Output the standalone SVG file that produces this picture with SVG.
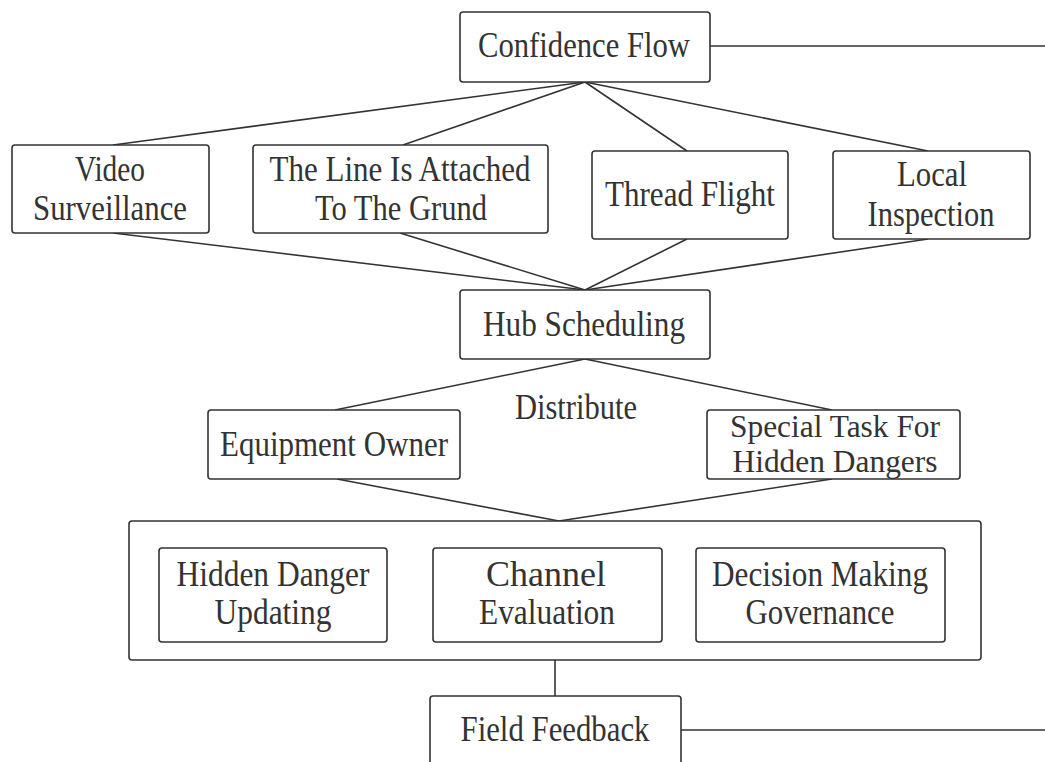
<svg xmlns="http://www.w3.org/2000/svg" width="1045" height="762" viewBox="0 0 1045 762">
<style>
.box{fill:#fff;stroke:#333;stroke-width:1.6}
.t{font-family:"Liberation Serif","Times New Roman",serif;font-size:36px;fill:#333;text-anchor:middle}
.s{font-size:32px}
.c{stroke:#333;stroke-width:1.6;fill:none}
</style>
<rect width="1045" height="762" fill="#fff"/>
<g id="connectors">
<line class="c" x1="710" y1="46" x2="1045" y2="46"/>
<line class="c" x1="585" y1="82" x2="113" y2="145"/>
<line class="c" x1="585" y1="82" x2="403" y2="145"/>
<line class="c" x1="585" y1="82" x2="687" y2="151"/>
<line class="c" x1="585" y1="82" x2="928" y2="151"/>
<line class="c" x1="113" y1="233" x2="585" y2="290"/>
<line class="c" x1="400" y1="233" x2="585" y2="290"/>
<line class="c" x1="687" y1="239" x2="585" y2="290"/>
<line class="c" x1="928" y1="239" x2="585" y2="290"/>
<line class="c" x1="585" y1="359" x2="335" y2="410"/>
<line class="c" x1="585" y1="359" x2="832" y2="410"/>
<line class="c" x1="337" y1="479" x2="559" y2="521"/>
<line class="c" x1="832" y1="479" x2="559" y2="521"/>
<line class="c" x1="555" y1="660" x2="555" y2="696"/>
<line class="c" x1="681" y1="730" x2="1045" y2="730"/>
</g>
<g id="confidence-flow">
<rect class="box" x="460" y="12" width="250" height="70" rx="3"/>
<text class="t" x="584" y="57" textLength="212" lengthAdjust="spacingAndGlyphs">Confidence Flow</text>
</g>
<g id="video-surveillance">
<rect class="box" x="12" y="145" width="197" height="88" rx="3"/>
<text class="t" x="110" y="181" textLength="70" lengthAdjust="spacingAndGlyphs">Video</text>
<text class="t" x="110" y="220" textLength="154" lengthAdjust="spacingAndGlyphs">Surveillance</text>
</g>
<g id="line-attached">
<rect class="box" x="253" y="145" width="295" height="88" rx="3"/>
<text class="t" x="400" y="181" textLength="261" lengthAdjust="spacingAndGlyphs">The Line Is Attached</text>
<text class="t" x="401" y="220" textLength="172" lengthAdjust="spacingAndGlyphs">To The Grund</text>
</g>
<g id="thread-flight">
<rect class="box" x="592" y="151" width="196" height="88" rx="3"/>
<text class="t" x="690" y="206" textLength="170" lengthAdjust="spacingAndGlyphs">Thread Flight</text>
</g>
<g id="local-inspection">
<rect class="box" x="833" y="151" width="197" height="88" rx="3"/>
<text class="t" x="932" y="186" textLength="70" lengthAdjust="spacingAndGlyphs">Local</text>
<text class="t" x="931" y="226" textLength="127" lengthAdjust="spacingAndGlyphs">Inspection</text>
</g>
<g id="hub-scheduling">
<rect class="box" x="460" y="290" width="250" height="69" rx="3"/>
<text class="t" x="584" y="336" textLength="202" lengthAdjust="spacingAndGlyphs">Hub Scheduling</text>
</g>
<g id="distribute-label">
<text class="t" x="576" y="419" textLength="122" lengthAdjust="spacingAndGlyphs">Distribute</text>
</g>
<g id="equipment-owner">
<rect class="box" x="208" y="410" width="252" height="69" rx="3"/>
<text class="t" x="334" y="456" textLength="228" lengthAdjust="spacingAndGlyphs">Equipment Owner</text>
</g>
<g id="special-task">
<rect class="box" x="707" y="410" width="253" height="69" rx="3"/>
<text class="t s" x="835" y="437" textLength="210" lengthAdjust="spacingAndGlyphs">Special Task For</text>
<text class="t s" x="835" y="472" textLength="205" lengthAdjust="spacingAndGlyphs">Hidden Dangers</text>
</g>
<g id="container">
<rect class="box" x="129" y="521" width="852" height="139" rx="3"/>
</g>
<g id="hidden-danger-updating">
<rect class="box" x="159" y="548" width="228" height="94" rx="3"/>
<text class="t" x="273" y="586" textLength="193" lengthAdjust="spacingAndGlyphs">Hidden Danger</text>
<text class="t" x="273" y="624" textLength="117" lengthAdjust="spacingAndGlyphs">Updating</text>
</g>
<g id="channel-evaluation">
<rect class="box" x="433" y="548" width="229" height="94" rx="3"/>
<text class="t" x="546" y="586" textLength="120" lengthAdjust="spacingAndGlyphs">Channel</text>
<text class="t" x="547" y="624" textLength="136" lengthAdjust="spacingAndGlyphs">Evaluation</text>
</g>
<g id="decision-making">
<rect class="box" x="696" y="548" width="249" height="94" rx="3"/>
<text class="t" x="820" y="586" textLength="216" lengthAdjust="spacingAndGlyphs">Decision Making</text>
<text class="t" x="820" y="624" textLength="149" lengthAdjust="spacingAndGlyphs">Governance</text>
</g>
<g id="field-feedback">
<rect class="box" x="430" y="696" width="251" height="80" rx="3"/>
<text class="t" x="555" y="741" textLength="189" lengthAdjust="spacingAndGlyphs">Field Feedback</text>
</g>
</svg>
